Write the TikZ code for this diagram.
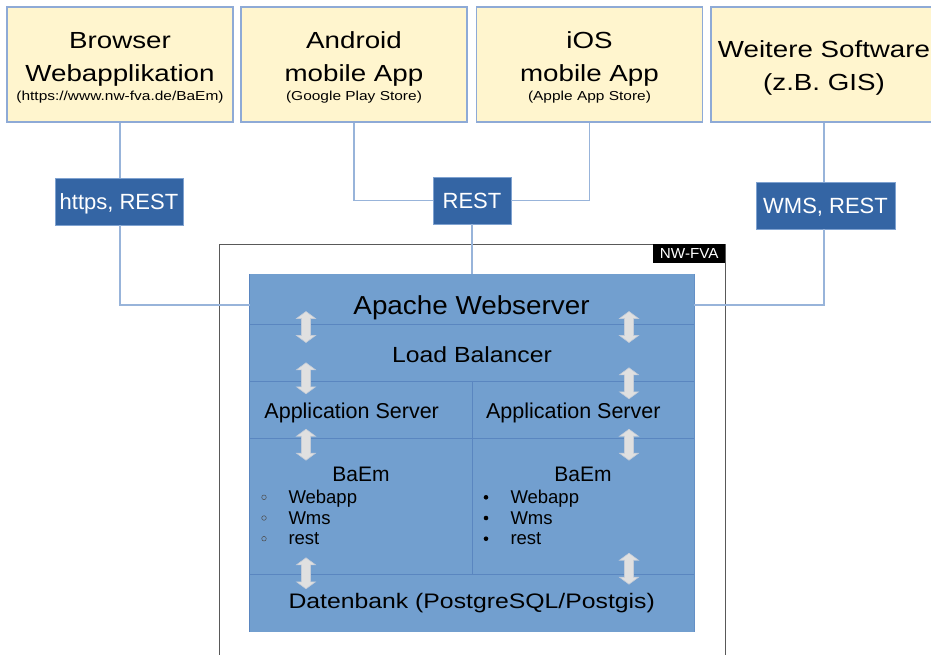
\documentclass[tikz,border=0pt]{standalone}
\usepackage{fontspec}
\setmainfont{Liberation Sans}
\newfontfamily\fTop[FakeStretch=1.19]{Liberation Sans}
\newfontfamily\fApa[FakeStretch=1.07]{Liberation Sans}
\newfontfamily\fLB[FakeStretch=1.13]{Liberation Sans}
\newfontfamily\fDB[FakeStretch=1.18]{Liberation Sans}
\newfontfamily\fNW[FakeStretch=1.05]{Liberation Sans}
\newcommand\fsz[1]{\fontsize{#1}{#1}\selectfont}
\definecolor{topfill}{HTML}{FFF5CE}
\definecolor{topline}{HTML}{8EAAD6}
\definecolor{connc}{HTML}{98B4DA}
\definecolor{lblfill}{HTML}{3465A4}
\definecolor{lblline}{HTML}{7FA2D0}
\definecolor{mainfill}{HTML}{729FCF}
\definecolor{divline}{HTML}{5A86C0}
\definecolor{arrfill}{HTML}{E0E0E0}
\definecolor{arrline}{HTML}{C4CCD8}
\tikzset{
  topbox/.style={draw=topline, line width=1.2pt, fill=topfill, minimum width=226pt, minimum height=115pt, inner sep=0},
  lbl/.style={draw=lblline, line width=0.8pt, fill=lblfill, inner sep=0, text=white, font=\fsz{22}, text height=16pt, text depth=0pt},
  rowbox/.style={fill=mainfill, inner sep=0},
  txt/.style={anchor=base, inner sep=0},
  itm/.style={anchor=base west, inner sep=0, font=\fsz{18.5}},
  connl/.style={draw=connc, line width=1.5pt},
  divl/.style={draw=divline, line width=1pt},
  obul/.style={circle, draw=black!70, line width=0.5pt, minimum size=4.6pt, inner sep=0},
  fbul/.style={circle, fill=black, minimum size=4.6pt, inner sep=0},
  dbl/.pic={\path[fill=arrfill, draw=arrline, line width=0.6pt]
    (0,-15.5)--(9.5,-8.5)--(4.5,-8.5)--(4.5,8.5)--(9.5,8.5)--(0,15.5)
    --(-9.5,8.5)--(-4.5,8.5)--(-4.5,-8.5)--(-9.5,-8.5)--cycle;}
}
\begin{document}
\begin{tikzpicture}[x=1pt,y=-1pt]
\useasboundingbox[fill=white] (0,0) rectangle (931,654);

% NW-FVA container
\node[draw=black!65, line width=0.9pt, minimum width=506pt, minimum height=455pt, inner sep=0] (nwfva) at (472,472) {};
\node[fill=black, text=white, anchor=north east, minimum width=72pt, minimum height=19pt, inner sep=0, font=\fNW\fsz{14.5}, text height=10.4pt, text depth=0pt] (nwlbl) at (nwfva.north east) {NW-FVA};

% top boxes
\node[topbox] (b1) at (120,64.5) {};
\node[topbox] (b2) at (354,64.5) {};
\node[topbox] (b3) at (589.5,64.5) {};
\node[topbox] (b4) at (824,64.5) {};

\node[txt, font=\fTop\fsz{23.3}] (t1a) at (120,48.3) {Browser};
\node[txt, font=\fTop\fsz{23.3}] (t1b) at (120,81) {Webapplikation};
\node[txt, font=\fTop\fsz{13}] (t1c) at (120,100) {(https://www.nw-fva.de/BaEm)};
\node[txt, font=\fTop\fsz{23.3}] (t2a) at (354,48.3) {Android};
\node[txt, font=\fTop\fsz{23.3}] (t2b) at (354,81) {mobile App};
\node[txt, font=\fTop\fsz{13}] (t2c) at (354,100) {(Google Play Store)};
\node[txt, font=\fTop\fsz{23.3}] (t3a) at (589.5,48.3) {iOS};
\node[txt, font=\fTop\fsz{23.3}] (t3b) at (589.5,81) {mobile App};
\node[txt, font=\fTop\fsz{13}] (t3c) at (589.5,100) {(Apple App Store)};
\node[txt, font=\fTop\fsz{23.3}] (t4a) at (824,57) {Weitere Software};
\node[txt, font=\fTop\fsz{23.3}] (t4b) at (824,90) {(z.B. GIS)};

% main blue stack
\node[rowbox, minimum width=444pt, minimum height=50pt] (apache) at (472,299) {};
\node[rowbox, minimum width=444pt, minimum height=57pt] (lb) at (472,352.5) {};
\node[rowbox, minimum width=222pt, minimum height=57pt] (appL) at (361,409.5) {};
\node[rowbox, minimum width=222pt, minimum height=57pt] (appR) at (583,409.5) {};
\node[rowbox, minimum width=222pt, minimum height=136pt] (baemL) at (361,506) {};
\node[rowbox, minimum width=222pt, minimum height=136pt] (baemR) at (583,506) {};
\node[rowbox, minimum width=444pt, minimum height=58pt] (db) at (472,603) {};

\draw[divl] (apache.south west) -- (apache.south east);
\draw[divl] (lb.south west) -- (lb.south east);
\draw[divl] (appL.south west) -- (appR.south east);
\draw[divl] (baemL.south west) -- (baemR.south east);
\draw[divl] (appL.north east) -- (baemL.south east);
\draw[divl] (apache.north west) -- (db.south west);
\draw[draw=divline!60!mainfill, line width=0.6pt] (apache.north east) -- (db.south east);

% connectors
\node[lbl, minimum width=128pt, minimum height=47pt] (l1) at (119,201.5) {https, REST};
\node[lbl, minimum width=78pt, minimum height=47pt] (rest) at (472,200.5) {REST};
\node[lbl, minimum width=139pt, minimum height=47pt] (wms) at (825.5,205.5) {WMS, REST};

\draw[connl] (b1.south) -- (b1.south |- l1.north);
\draw[connl] (b1.south |- l1.south) |- ([yshift=-6pt]apache.west);
\draw[connl] (b2.south) |- (rest.west);
\draw[connl] (b3.south) |- (rest.east);
\draw[connl] (rest.south) -- (apache.north);
\draw[connl] (b4.south) -- (b4.south |- wms.north);
\draw[connl] (b4.south |- wms.south) |- ([yshift=-6pt]apache.east);

% texts in stack
\node[txt, font=\fApa\fsz{26}] (tap) at (471.5,314.7) {Apache Webserver};
\node[txt, font=\fLB\fsz{21.9}] (tlb) at (472,362.3) {Load Balancer};
\node[txt, font=\fsz{21.5}] (tasL) at (351.7,418.3) {Application Server};
\node[txt, font=\fsz{21.5}] (tasR) at (573.3,418.3) {Application Server};
\node[txt, font=\fsz{21}] (tbL) at (361,481.7) {BaEm};
\node[txt, font=\fsz{21}] (tbR) at (583,481.7) {BaEm};
\node[txt, font=\fDB\fsz{21}] (tdb) at (471.7,608.3) {Datenbank (PostgreSQL/Postgis)};

\node[obul] (cl1) at (264,497.3) {};
\node[obul] (cl2) at (264,518) {};
\node[obul] (cl3) at (264,538.7) {};
\node[itm] (il1) at (288.3,503.3) {Webapp};
\node[itm] (il2) at (288.3,524) {Wms};
\node[itm] (il3) at (288.3,544.7) {rest};
\node[fbul] (cr1) at (486,497.3) {};
\node[fbul] (cr2) at (486,518) {};
\node[fbul] (cr3) at (486,538.7) {};
\node[itm] (ir1) at (510.3,503.3) {Webapp};
\node[itm] (ir2) at (510.3,524) {Wms};
\node[itm] (ir3) at (510.3,544.7) {rest};

% double arrows
\pic at (306,327) {dbl};
\pic at (629,327) {dbl};
\pic at (306,378.3) {dbl};
\pic at (629,383.3) {dbl};
\pic at (306,444.7) {dbl};
\pic at (629,444.7) {dbl};
\pic at (306,573.3) {dbl};
\pic at (629,568.7) {dbl};
\end{tikzpicture}
\end{document}
